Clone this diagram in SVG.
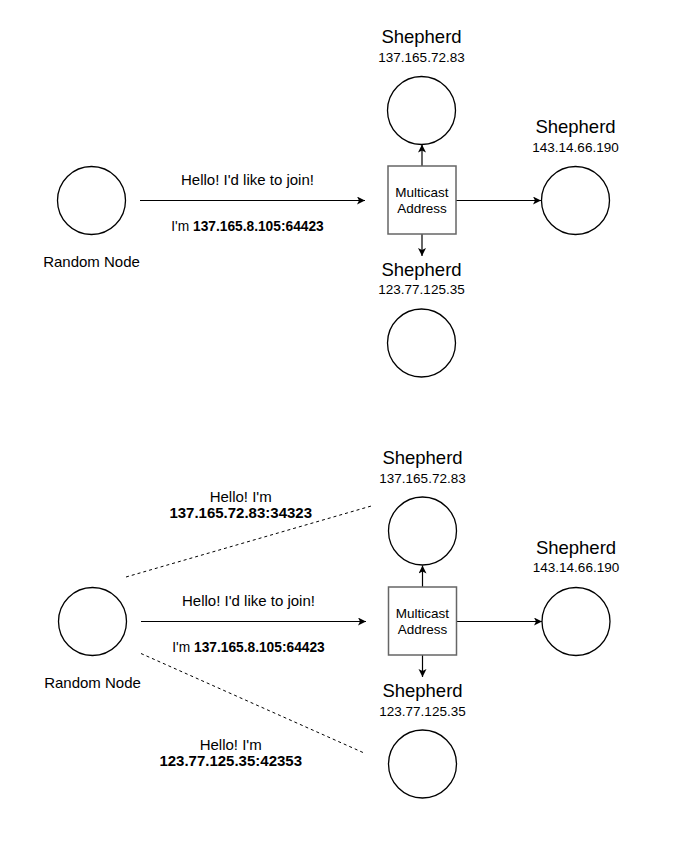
<svg xmlns="http://www.w3.org/2000/svg" width="678" height="864" viewBox="0 0 678 864">
<style>
text{font-family:"Liberation Sans",Arial,sans-serif;fill:#000;text-anchor:middle}
.lbl{font-size:15px}
.im{font-size:13.75px}
.title{font-size:18.5px}
.ip{font-size:13.5px}
.box{font-size:13.5px}
.node{fill:#fff;stroke:#000;stroke-width:1.3}
.rect{fill:#fff;stroke:#666;stroke-width:1.5}
.edge{fill:none;stroke:#000;stroke-width:1.2}
.dash{fill:none;stroke:#000;stroke-width:1;stroke-dasharray:3,3}
.b{font-weight:bold}
</style>
<defs>
<marker id="ah" markerWidth="10" markerHeight="10" refX="8" refY="4" orient="auto" markerUnits="userSpaceOnUse">
<path d="M0,0 L8,4 L0,8 L2,4 Z" fill="#000"/>
</marker>
</defs>
<rect width="678" height="864" fill="#fff"/>

<!-- Top diagram -->
<g id="connectors-top">
<line class="edge" x1="140" y1="200.5" x2="365" y2="200.5" marker-end="url(#ah)"/>
<line class="edge" x1="422" y1="166" x2="422" y2="144.5" marker-end="url(#ah)"/>
<line class="edge" x1="456" y1="200.5" x2="541" y2="200.5" marker-end="url(#ah)"/>
<line class="edge" x1="422" y1="234" x2="422" y2="256" marker-end="url(#ah)"/>
<text class="lbl" x="247.5" y="184.5">Hello! I'd like to join!</text>
<text class="im" x="247.5" y="231">I'm <tspan class="b">137.165.8.105:64423</tspan></text>
</g>
<g id="random-top">
<circle class="node" cx="91.5" cy="200.5" r="34"/>
<text class="lbl" x="91.5" y="267">Random Node</text>
</g>
<g id="multicast-top">
<rect class="rect" x="388" y="166" width="68" height="68"/>
<text class="box" x="422" y="196.7">Multicast</text>
<text class="box" x="422" y="212.7">Address</text>
</g>
<g id="shepherd-top-1">
<text class="title" x="421.5" y="43">Shepherd</text>
<text class="ip" x="421.5" y="62">137.165.72.83</text>
<circle class="node" cx="421.5" cy="110.5" r="34"/>
</g>
<g id="shepherd-top-2">
<text class="title" x="575.5" y="133.3">Shepherd</text>
<text class="ip" x="575.5" y="151.7">143.14.66.190</text>
<circle class="node" cx="575.5" cy="200.5" r="34"/>
</g>
<g id="shepherd-top-3">
<text class="title" x="421.5" y="276">Shepherd</text>
<text class="ip" x="421.5" y="294.3">123.77.125.35</text>
<circle class="node" cx="421.5" cy="343" r="34"/>
</g>

<!-- Bottom diagram -->
<g id="connectors-bottom">
<line class="edge" x1="141" y1="621.5" x2="366" y2="621.5" marker-end="url(#ah)"/>
<line class="edge" x1="422.5" y1="587" x2="422.5" y2="565.5" marker-end="url(#ah)"/>
<line class="edge" x1="456.5" y1="621.5" x2="542" y2="621.5" marker-end="url(#ah)"/>
<line class="edge" x1="422.5" y1="655" x2="422.5" y2="677" marker-end="url(#ah)"/>
<line class="dash" x1="126" y1="577" x2="373" y2="505.5"/>
<line class="dash" x1="141" y1="653.5" x2="363" y2="752.5"/>
<text class="lbl" x="248.5" y="605.5">Hello! I'd like to join!</text>
<text class="im" x="248.5" y="652">I'm <tspan class="b">137.165.8.105:64423</tspan></text>
<text class="lbl" x="240.7" y="502.3">Hello! I'm</text>
<text class="lbl b" x="240.7" y="518.3">137.165.72.83:34323</text>
<text class="lbl" x="230.7" y="750">Hello! I'm</text>
<text class="lbl b" x="230.7" y="766">123.77.125.35:42353</text>
</g>
<g id="random-bottom">
<circle class="node" cx="92.5" cy="621.5" r="34"/>
<text class="lbl" x="92.5" y="688">Random Node</text>
</g>
<g id="multicast-bottom">
<rect class="rect" x="388.5" y="587" width="68" height="68"/>
<text class="box" x="422.5" y="617.7">Multicast</text>
<text class="box" x="422.5" y="633.5">Address</text>
</g>
<g id="shepherd-bottom-1">
<text class="title" x="422.5" y="463.5">Shepherd</text>
<text class="ip" x="422.5" y="482.7">137.165.72.83</text>
<circle class="node" cx="422.5" cy="531" r="34"/>
</g>
<g id="shepherd-bottom-2">
<text class="title" x="576" y="554">Shepherd</text>
<text class="ip" x="576" y="572.3">143.14.66.190</text>
<circle class="node" cx="576" cy="621.5" r="34"/>
</g>
<g id="shepherd-bottom-3">
<text class="title" x="422.5" y="696.7">Shepherd</text>
<text class="ip" x="422.5" y="716">123.77.125.35</text>
<circle class="node" cx="422.5" cy="764" r="34"/>
</g>
</svg>
